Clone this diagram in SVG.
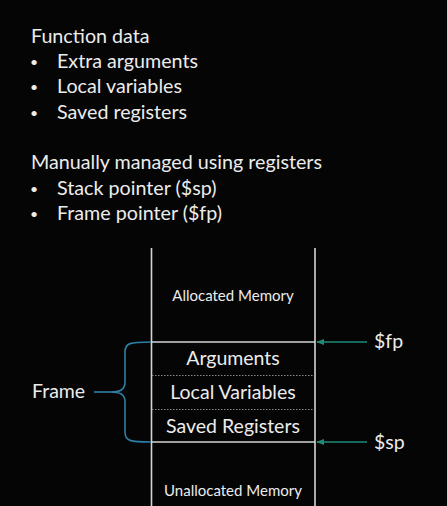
<svg xmlns="http://www.w3.org/2000/svg" width="447" height="506" viewBox="0 0 447 506">
  <style>
    .t { font-family: Lato, "Open Sans", "Liberation Sans", sans-serif; fill: #ececec; }
    .h { font-size: 19.7px; }
    .dot { font-size: 14px; }
    .cell { font-size: 19.5px; text-anchor: middle; }
    .mem { font-size: 15px; text-anchor: middle; }
    .ptr { font-size: 19.5px; }
    .wall { stroke: #d4d4d4; stroke-width: 1.6; fill: none; }
    .sep { stroke: #8a8a8a; stroke-width: 1; stroke-dasharray: 1.5 1.5; fill: none; }
    .arrow { stroke: #1f8a78; stroke-width: 1.6; fill: none; marker-end: url(#head); }
    .brace { stroke: #2f7fa6; stroke-width: 1.6; fill: none; }
  </style>
  <defs>
    <marker id="head" viewBox="0 0 10 10" refX="9" refY="5" markerWidth="5" markerHeight="5" orient="auto">
      <path d="M0,1 L10,5 L0,9 Z" fill="#1f8a78"/>
    </marker>
  </defs>
  <rect width="447" height="506" fill="#050505"/>

  <!-- bullet text -->
  <g id="notes" class="t h">
    <text x="31" y="43">Function data</text>
    <text class="dot" x="30" y="67">•</text><text x="57" y="68">Extra arguments</text>
    <text class="dot" x="30" y="92">•</text><text x="57" y="93">Local variables</text>
    <text class="dot" x="30" y="118">•</text><text x="57" y="119">Saved registers</text>
    <text x="31" y="169">Manually managed using registers</text>
    <text class="dot" x="30" y="194">•</text><text x="57" y="195">Stack pointer ($sp)</text>
    <text class="dot" x="30" y="219">•</text><text x="57" y="220">Frame pointer ($fp)</text>
  </g>

  <!-- stack column -->
  <g id="stack">
    <line class="wall" x1="151.5" y1="248" x2="151.5" y2="506"/>
    <line class="wall" x1="315" y1="248" x2="315" y2="506"/>
    <line class="wall" x1="151.5" y1="342" x2="315" y2="342"/>
    <line class="wall" x1="151.5" y1="442" x2="315" y2="442"/>
    <line class="sep" x1="152" y1="375.5" x2="314" y2="375.5"/>
    <line class="sep" x1="152" y1="409.5" x2="314" y2="409.5"/>
  </g>
  <g id="allocated" class="t mem"><text x="233" y="301">Allocated Memory</text></g>
  <g id="arguments" class="t cell"><text x="233" y="365">Arguments</text></g>
  <g id="locals" class="t cell"><text x="233" y="399">Local Variables</text></g>
  <g id="saved" class="t cell"><text x="233" y="433">Saved Registers</text></g>
  <g id="unallocated" class="t mem"><text x="233" y="496">Unallocated Memory</text></g>

  <g id="fp" class="t ptr"><text x="374" y="348">$fp</text></g>
  <g id="sp" class="t ptr"><text x="374" y="449">$sp</text></g>
  <g id="frame" class="t ptr"><text x="32" y="398">Frame</text></g>

  <!-- connectors -->
  <g id="connectors">
    <line class="arrow" x1="367" y1="342" x2="317" y2="342"/>
    <line class="arrow" x1="367" y1="442" x2="317" y2="442"/>
    <path class="brace" d="M151,342 C130,342 125,343 125,352 L125,382 C125,390 120,392 110,392 C120,392 125,394 125,402 L125,432 C125,441 130,442 151,442"/>
    <line class="brace" x1="94" y1="392" x2="110" y2="392"/>
  </g>
</svg>
